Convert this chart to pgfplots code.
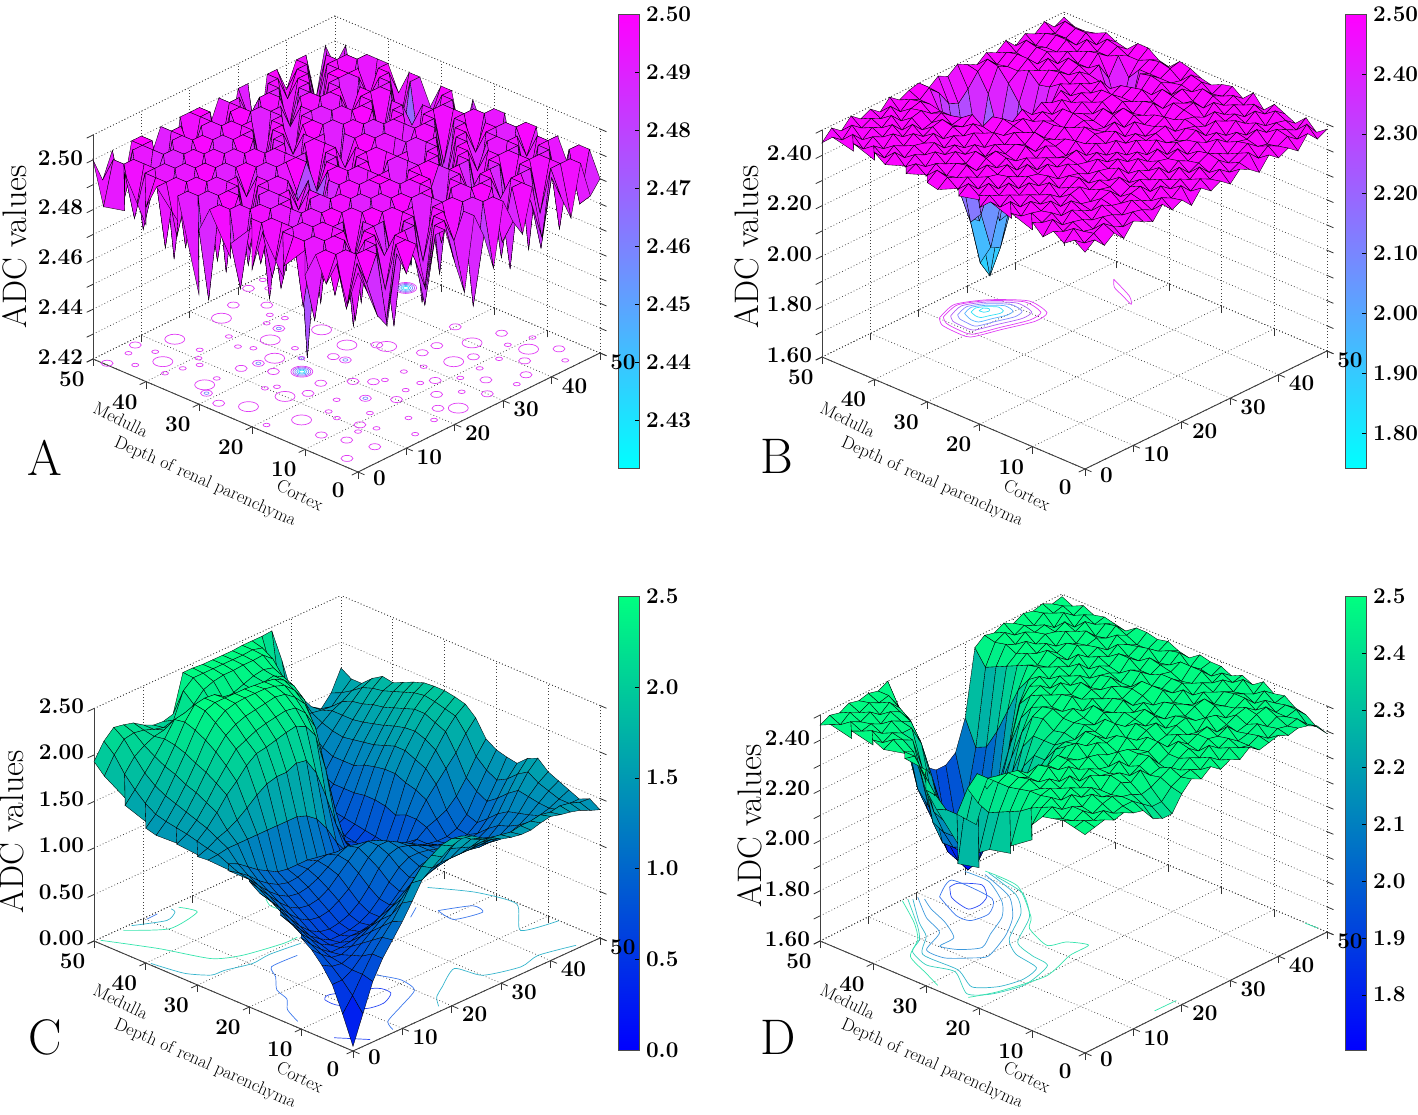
\documentclass[border=0pt]{standalone}
\usepackage{pgfplots}
\pgfplotsset{compat=1.18}
\newcommand\tickf{\fontsize{22.5}{25}\selectfont\bfseries}
\pgfdeclareplotmark{blob}{\pgfpathellipse{\pgfpointorigin}{\pgfqpoint{\pgfplotmarksize}{0pt}}{\pgfqpoint{0pt}{.5\pgfplotmarksize}}\pgfusepathqstroke}
\definecolor{k1}{HTML}{E03CF5}\definecolor{k2}{HTML}{B060F5}\definecolor{k3}{HTML}{8088FF}\definecolor{k4}{HTML}{58B0FF}\definecolor{k5}{HTML}{30E0F5}
\definecolor{w1}{HTML}{2848F5}\definecolor{w2}{HTML}{3C78EC}\definecolor{w3}{HTML}{3C98DC}\definecolor{w4}{HTML}{34B4CC}\definecolor{w5}{HTML}{34D0BC}\definecolor{w6}{HTML}{34E4AC}
\pgfplotsset{
 base/.style={xmin=0,xmax=50,ymin=0,ymax=50,xtick={0,10,...,50},ytick={0,10,...,50},
  grid=major,grid style={dash pattern=on .8pt off 2.4pt,black!75,line width=.7pt},
  axis line style={dash pattern=on .8pt off 2.4pt,black!75,line width=.7pt},
  tick style={black!80,line width=.8pt},tick align=outside,major tick length=7pt,
  xtick pos=lower,ytick pos=lower,ztick pos=left,
  clip=false,anchor=south west,/pgf/number format/assume math mode=true,
  ticklabel style={font=\tickf},
  x tick label style={xshift=7pt,yshift=8pt},y tick label style={xshift=-6pt,yshift=-3pt},
 },
 cool/.style={colormap={m}{rgb255=(0,255,255) rgb255=(255,0,255)}},
 winter/.style={colormap={m}{rgb255=(0,0,255) rgb255=(0,255,128)}},
 cb/.style={anchor=south west,width=21.5pt,height=454pt,scale only axis,view={0}{90},xmin=0,xmax=1,xtick=\empty,ytick pos=right,
   tick align=inside,major tick length=5pt,enlargelimits=false,ticklabel style={font=\tickf},
   yticklabel style={xshift=3pt},
   /pgf/number format/assume math mode=true,axis line style={black!70,line width=.8pt},tick style={black}},
 cbb/.style={surf,shader=interp,mesh/rows=2,mesh/cols=2},
}
\newcommand\fr[2]{\addplot3[black!75,line width=.9pt] coordinates{(0,50,#1)(0,0,#1)(50,0,#1)};\addplot3[black!75,line width=.9pt] coordinates{(0,50,#1)(0,50,#2)};}
\newcommand\cl[3]{\addplot3[no marks,smooth,tension=.4,line width=.7pt,color=#1] table[z expr=#2,row sep=\\]{x y\\#3};}
\newcommand\bl[4]{\addplot3[only marks,mark=blob,mark size=#2,color=#1,mark options={line width=.7pt}] table[z expr=#3,row sep=\\]{x y\\#4};}
\newcommand\sfc[1]{\addplot3[surf,shader=faceted,faceted color=black,line width=.35pt,z buffer=sort,mesh/cols=26,mesh/rows=26] table[x expr={mod(\coordindex,26)*2},y expr={floor(\coordindex/26)*2},z index=0,row sep=\\]{z\\#1};}
\newcommand\lbl[2]{\begin{scope}[shift={(#1pt,#2pt)},font=\fontsize{18}{20}\selectfont]
 \node[rotate=-26] at (121pt,694pt) {Medulla};
 \node[rotate=-24] at (205pt,632pt) {Depth of renal parenchyma};
 \node[rotate=-26] at (300pt,619pt) {Cortex};\end{scope}}
\begin{document}
\begin{tikzpicture}
\path[use as bounding box] (0,0) rectangle (1418pt,1114pt);
\begin{axis}[cb,cool,at={(618pt,646pt)},ymin=2.4217,ymax=2.50,ytick={2.43,2.44,...,2.501},point meta min=2.4217,point meta max=2.5,/pgf/number format/.cd,fixed,fixed zerofill,precision=2]
\addplot3[cbb] coordinates {(0,2.4217,2.4217)(1,2.4217,2.4217)(0,2.5,2.5)(1,2.5,2.5)};
\end{axis}
\begin{axis}[base,cool,at={(93pt,642pt)},x={(4.84pt,2.38pt)},y={(-5.3pt,2.26pt)},z={(0pt,2489pt)},zmin=2.42,zmax=2.51,point meta min=2.42,point meta max=2.5,
 ztick={2.42,2.43,...,2.511},zticklabels={2.42,,2.44,,2.46,,2.48,,2.50,}]
\fr{2.42}{2.51}
\bl{k1}{10}{2.42}{12.3 45.8\\6.1 42.4\\4.9 33.4\\4.2 24.5\\21.3 36\\17.6 31.8\\21.5 45.4\\28.5 32.9\\10 22.9\\6.3 16.4\\27.5 27.2\\31 22.9\\34 13\\24 3\\40 15\\44 8\\}
\bl{k1}{6}{2.42}{7.2 48.6\\.4 47.7\\30.8 48.8\\25.6 46.9\\28.8 43.5\\24.7 37.5\\12.1 33.1\\14.9 32.4\\14.5 29.2\\16.4 22\\23.6 26.2\\12.9 21.2\\24 24.3\\19.9 19.1\\17.3 14.4\\2.1 28.2\\3.2 31.5\\4.8 11.3\\6.1 7.7\\2 3.9\\7.3 3.5\\10.8 9.5\\21.8 17\\30.4 24.2\\33 18\\37 12\\41 6\\28 11\\33 6\\45 14\\25 8\\47 5\\30 3\\38 3\\36 18\\42 20\\22 5\\20 11\\}
\bl{k1}{3.5}{2.42}{4.7 47.6\\2.7 44.5\\7.6 45.2\\12.3 41.1\\10.3 39.5\\6.5 39\\8.9 38\\7.5 33.5\\3.7 39.8\\34.1 49.1\\32.7 46.8\\18.1 40.9\\16.7 37.9\\17.8 36\\21.8 31.8\\20.2 29.1\\9.9 26.6\\11.4 25.7\\14.2 17\\23.3 16.2\\14.4 10.9\\10.8 15.4\\10.1 13.2\\11.6 7.1\\9.1 8.3\\1.8 18.9\\26.9 41.2\\27.6 39\\24.7 39.8\\27 16\\30 15\\31 9\\35 9\\39 9\\43 11\\47 10\\45 2\\35 2\\28 6\\17 6\\19 3\\14 2\\23 12\\26 12\\}
\bl{k3}{2.5}{2.42}{14.9 32.4\\20.2 29.1\\24.7 37.5\\3.2 31.5\\24 24.3\\17.3 14.4\\}
\bl{k1}{11}{2.42}{17.2 26.3\\46 33\\}\bl{k2}{9}{2.42}{17.2 26.3\\46 33\\}\bl{k3}{7}{2.42}{17.2 26.3\\46 33\\}\bl{k4}{5}{2.42}{17.2 26.3\\46 33\\}\bl{k5}{3}{2.42}{17.2 26.3\\46 33\\}
\sfc{%
2.5\\2.49\\2.479\\2.473\\2.5\\2.49\\2.5\\2.48\\2.5\\2.5\\2.485\\2.471\\2.5\\2.49\\2.475\\2.5\\2.49\\2.483\\2.5\\2.478\\2.5\\2.49\\2.48\\2.5\\2.485\\2.49\\%
2.485\\2.5\\2.49\\2.5\\2.47\\2.5\\2.5\\2.49\\2.47\\2.5\\2.5\\2.49\\2.5\\2.46\\2.5\\2.5\\2.48\\2.5\\2.5\\2.49\\2.47\\2.5\\2.5\\2.5\\2.48\\2.5\\%
2.5\\2.48\\2.5\\2.5\\2.5\\2.48\\2.5\\2.5\\2.5\\2.47\\2.5\\2.5\\2.48\\2.5\\2.5\\2.49\\2.5\\2.47\\2.5\\2.5\\2.5\\2.48\\2.5\\2.47\\2.5\\2.5\\%
2.49\\2.5\\2.5\\2.47\\2.5\\2.5\\2.49\\2.46\\2.5\\2.5\\2.48\\2.5\\2.5\\2.5\\2.47\\2.5\\2.5\\2.5\\2.49\\2.46\\2.5\\2.5\\2.5\\2.5\\2.48\\2.49\\%
2.5\\2.5\\2.48\\2.5\\2.49\\2.5\\2.5\\2.5\\2.48\\2.5\\2.5\\2.46\\2.5\\2.48\\2.5\\2.5\\2.47\\2.5\\2.5\\2.5\\2.48\\2.5\\2.46\\2.5\\2.5\\2.5\\%
2.49\\2.47\\2.5\\2.5\\2.5\\2.46\\2.5\\2.49\\2.5\\2.5\\2.49\\2.5\\2.5\\2.5\\2.48\\2.5\\2.5\\2.49\\2.46\\2.5\\2.5\\2.5\\2.5\\2.48\\2.5\\2.47\\%
2.5\\2.5\\2.5\\2.48\\2.5\\2.5\\2.48\\2.5\\2.5\\2.47\\2.5\\2.5\\2.47\\2.5\\2.5\\2.46\\2.5\\2.5\\2.5\\2.48\\2.5\\2.47\\2.5\\2.5\\2.49\\2.5\\%
2.49\\2.5\\2.47\\2.5\\2.5\\2.49\\2.5\\2.5\\2.46\\2.5\\2.5\\2.48\\2.5\\2.5\\2.5\\2.49\\2.5\\2.47\\2.5\\2.5\\2.49\\2.5\\2.5\\2.46\\2.5\\2.5\\%
2.485\\2.5\\2.5\\2.5\\2.47\\2.5\\2.5\\2.48\\2.5\\2.5\\2.47\\2.5\\2.5\\2.48\\2.5\\2.5\\2.5\\2.5\\2.48\\2.5\\2.5\\2.47\\2.5\\2.5\\2.5\\2.48\\%
2.5\\2.48\\2.5\\2.49\\2.5\\2.5\\2.46\\2.5\\2.5\\2.48\\2.5\\2.5\\2.5\\2.5\\2.46\\2.5\\2.48\\2.5\\2.5\\2.47\\2.5\\2.5\\2.49\\2.5\\2.47\\2.5\\%
2.483\\2.5\\2.5\\2.47\\2.5\\2.48\\2.5\\2.5\\2.49\\2.5\\2.5\\2.47\\2.5\\2.49\\2.5\\2.5\\2.5\\2.46\\2.5\\2.5\\2.48\\2.5\\2.5\\2.48\\2.5\\2.5\\%
2.5\\2.5\\2.48\\2.5\\2.5\\2.5\\2.48\\2.5\\2.46\\2.5\\2.48\\2.5\\2.5\\2.5\\2.48\\2.5\\2.49\\2.5\\2.5\\2.48\\2.5\\2.46\\2.5\\2.5\\2.5\\2.49\\%
2.49\\2.47\\2.5\\2.5\\2.46\\2.5\\2.5\\2.49\\2.5\\2.48\\2.5\\2.5\\2.47\\2.5\\2.5\\2.5\\2.47\\2.5\\2.49\\2.5\\2.5\\2.5\\2.48\\2.5\\2.46\\2.5\\%
2.484\\2.5\\2.5\\2.48\\2.5\\2.5\\2.47\\2.5\\2.49\\2.425\\2.49\\2.5\\2.5\\2.48\\2.5\\2.49\\2.5\\2.5\\2.47\\2.5\\2.48\\2.5\\2.5\\2.5\\2.5\\2.48\\%
2.5\\2.5\\2.49\\2.5\\2.47\\2.5\\2.5\\2.5\\2.48\\2.49\\2.5\\2.46\\2.5\\2.5\\2.49\\2.5\\2.5\\2.46\\2.5\\2.5\\2.5\\2.47\\2.5\\2.48\\2.5\\2.5\\%
2.49\\2.46\\2.5\\2.5\\2.5\\2.48\\2.5\\2.46\\2.5\\2.5\\2.5\\2.5\\2.48\\2.5\\2.47\\2.5\\2.48\\2.5\\2.5\\2.48\\2.5\\2.5\\2.49\\2.47\\2.49\\2.5\\%
2.464\\2.5\\2.5\\2.47\\2.5\\2.5\\2.49\\2.5\\2.5\\2.47\\2.5\\2.48\\2.5\\2.5\\2.5\\2.46\\2.5\\2.5\\2.49\\2.5\\2.47\\2.5\\2.47\\2.43\\2.47\\2.49\\%
2.5\\2.5\\2.48\\2.5\\2.5\\2.46\\2.5\\2.5\\2.48\\2.5\\2.5\\2.5\\2.47\\2.5\\2.49\\2.5\\2.5\\2.47\\2.5\\2.5\\2.5\\2.48\\2.5\\2.47\\2.5\\2.5\\%
2.49\\2.48\\2.5\\2.5\\2.49\\2.5\\2.5\\2.47\\2.5\\2.5\\2.46\\2.5\\2.5\\2.49\\2.5\\2.5\\2.46\\2.5\\2.5\\2.48\\2.5\\2.5\\2.5\\2.5\\2.48\\2.5\\%
2.5\\2.5\\2.5\\2.47\\2.5\\2.5\\2.48\\2.5\\2.5\\2.49\\2.5\\2.47\\2.5\\2.5\\2.48\\2.5\\2.5\\2.5\\2.47\\2.5\\2.49\\2.5\\2.47\\2.5\\2.5\\2.49\\%
2.49\\2.5\\2.47\\2.5\\2.5\\2.48\\2.5\\2.5\\2.46\\2.5\\2.5\\2.5\\2.48\\2.5\\2.5\\2.47\\2.5\\2.48\\2.5\\2.5\\2.5\\2.46\\2.5\\2.49\\2.5\\2.5\\%
2.483\\2.5\\2.5\\2.5\\2.46\\2.5\\2.5\\2.49\\2.5\\2.5\\2.48\\2.5\\2.5\\2.46\\2.5\\2.5\\2.49\\2.5\\2.5\\2.47\\2.5\\2.5\\2.5\\2.5\\2.47\\2.5\\%
2.5\\2.48\\2.5\\2.49\\2.5\\2.5\\2.47\\2.5\\2.5\\2.47\\2.5\\2.5\\2.49\\2.5\\2.5\\2.48\\2.5\\2.46\\2.5\\2.5\\2.48\\2.5\\2.5\\2.48\\2.5\\2.5\\%
2.485\\2.5\\2.5\\2.47\\2.5\\2.48\\2.5\\2.5\\2.49\\2.5\\2.5\\2.47\\2.5\\2.5\\2.47\\2.5\\2.5\\2.5\\2.48\\2.5\\2.5\\2.47\\2.5\\2.5\\2.5\\2.48\\%
2.483\\2.5\\2.48\\2.5\\2.5\\2.5\\2.47\\2.5\\2.5\\2.48\\2.5\\2.5\\2.48\\2.5\\2.5\\2.49\\2.47\\2.5\\2.5\\2.49\\2.5\\2.5\\2.48\\2.5\\2.47\\2.5\\%
2.5\\2.49\\2.5\\2.48\\2.5\\2.5\\2.49\\2.5\\2.47\\2.5\\2.5\\2.5\\2.49\\2.5\\2.48\\2.5\\2.5\\2.47\\2.5\\2.5\\2.49\\2.5\\2.5\\2.48\\2.5\\2.49\\%
}
\end{axis}
\node[rotate=90,font=\fontsize{34}{36}\selectfont] at (15pt,867pt) {ADC values};
\node[font=\fontsize{50}{52}\selectfont] at (45pt,656pt) {A};
\lbl{0}{0}
\begin{axis}[cb,cool,at={(1345pt,646pt)},ymin=1.7415,ymax=2.50,ytick={1.8,1.9,...,2.501},point meta min=1.7415,point meta max=2.5,/pgf/number format/.cd,fixed,fixed zerofill,precision=2]
\addplot3[cbb] coordinates {(0,1.7415,1.7415)(1,1.7415,1.7415)(0,2.5,2.5)(1,2.5,2.5)};
\end{axis}
\begin{axis}[base,cool,at={(822pt,645pt)},x={(4.84pt,2.36pt)},y={(-5.26pt,2.24pt)},z={(0pt,252pt)},zmin=1.6,zmax=2.5,point meta min=1.7415,point meta max=2.5,
 ztick={1.6,1.7,...,2.51},zticklabels={1.60,,1.80,,2.00,,2.20,,2.40,}]
\fr{1.6}{2.5}
\cl{k1}{1.6}{20.1 46.2\\24.6 47.5\\28.9 45.1\\32.6 40.7\\31.7 36.4\\28.6 35.8\\23.5 37.5\\18.8 39.1\\18.5 42\\18.8 44.5\\20.1 46.2\\}
\cl{k1}{1.6}{20.7 46\\24.8 47.1\\28.7 44.9\\32 40.9\\31.2 37.1\\28.4 36.6\\23.8 38.1\\19.6 39.5\\19.3 42.1\\19.6 44.4\\20.7 46\\}
\cl{k2}{1.6}{21.7 45.5\\25 46.5\\28.3 44.7\\31 41.4\\30.4 38.1\\28 37.7\\24.2 39\\20.7 40.2\\20.5 42.3\\20.7 44.2\\21.7 45.5\\}
\cl{k3}{1.6}{22.6 45\\25.3 45.8\\27.9 44.4\\30.1 41.7\\29.6 39.2\\27.7 38.8\\24.7 39.8\\21.8 40.8\\21.7 42.5\\21.9 44\\22.6 45\\}
\cl{k4}{1.6}{23.6 44.6\\25.6 45.2\\27.5 44.1\\29.2 42.1\\28.8 40.2\\27.4 39.9\\25.1 40.7\\23 41.4\\22.8 42.7\\23.2 43.8\\23.6 44.6\\}
\cl{k5}{1.6}{24.5 44.2\\25.9 44.6\\27.2 43.8\\28.3 42.5\\27.9 41.2\\27 41\\25.5 41.6\\24.2 42.1\\24.1 43\\24.5 44.2\\}
\cl{k5}{1.6}{25.6 43.7\\26.6 43.8\\27 43.1\\26.5 42.6\\25.7 42.9\\25.6 43.7\\}
\cl{k1}{1.6}{45.7 36.6\\43.4 31.5\\41.7 29.6\\42.8 32.2\\43.9 34.8\\45.7 36.6\\}
\sfc{%
2.46\\2.49\\2.45\\2.48\\2.44\\2.49\\2.47\\2.45\\2.5\\2.46\\2.48\\2.44\\2.49\\2.46\\2.48\\2.45\\2.49\\2.47\\2.44\\2.49\\2.46\\2.48\\2.45\\2.5\\2.46\\2.48\\%
2.49\\2.46\\2.48\\2.5\\2.47\\2.45\\2.49\\2.48\\2.46\\2.49\\2.47\\2.5\\2.46\\2.49\\2.47\\2.49\\2.46\\2.48\\2.5\\2.46\\2.49\\2.47\\2.49\\2.46\\2.5\\2.45\\%
2.46\\2.5\\2.47\\2.46\\2.49\\2.48\\2.46\\2.5\\2.48\\2.46\\2.5\\2.47\\2.49\\2.47\\2.5\\2.46\\2.49\\2.46\\2.48\\2.5\\2.47\\2.46\\2.5\\2.48\\2.46\\2.49\\%
2.49\\2.47\\2.49\\2.48\\2.46\\2.5\\2.48\\2.47\\2.49\\2.5\\2.46\\2.49\\2.47\\2.5\\2.46\\2.48\\2.5\\2.48\\2.46\\2.49\\2.48\\2.5\\2.47\\2.49\\2.48\\2.45\\%
2.45\\2.5\\2.46\\2.5\\2.48\\2.46\\2.49\\2.5\\2.46\\2.48\\2.49\\2.47\\2.5\\2.46\\2.49\\2.47\\2.49\\2.46\\2.5\\2.47\\2.49\\2.46\\2.49\\2.46\\2.5\\2.47\\%
2.49\\2.47\\2.49\\2.46\\2.5\\2.47\\2.46\\2.49\\2.48\\2.5\\2.46\\2.49\\2.47\\2.49\\2.48\\2.5\\2.46\\2.49\\2.47\\2.49\\2.46\\2.5\\2.47\\2.5\\2.47\\2.49\\%
2.46\\2.49\\2.48\\2.5\\2.46\\2.49\\2.5\\2.47\\2.49\\2.47\\2.5\\2.46\\2.5\\2.47\\2.5\\2.46\\2.49\\2.48\\2.5\\2.46\\2.5\\2.48\\2.49\\2.46\\2.49\\2.45\\%
2.49\\2.46\\2.5\\2.47\\2.49\\2.46\\2.48\\2.5\\2.46\\2.49\\2.48\\2.5\\2.47\\2.49\\2.46\\2.5\\2.47\\2.46\\2.49\\2.48\\2.46\\2.5\\2.47\\2.49\\2.47\\2.5\\%
2.47\\2.5\\2.46\\2.49\\2.47\\2.5\\2.46\\2.49\\2.48\\2.46\\2.5\\2.47\\2.49\\2.46\\2.5\\2.48\\2.49\\2.5\\2.46\\2.49\\2.48\\2.46\\2.5\\2.47\\2.49\\2.46\\%
2.5\\2.46\\2.49\\2.47\\2.5\\2.47\\2.49\\2.46\\2.5\\2.48\\2.47\\2.49\\2.46\\2.5\\2.47\\2.49\\2.46\\2.48\\2.5\\2.47\\2.49\\2.5\\2.46\\2.49\\2.47\\2.49\\%
2.46\\2.49\\2.47\\2.5\\2.46\\2.49\\2.48\\2.5\\2.47\\2.49\\2.5\\2.46\\2.49\\2.47\\2.5\\2.46\\2.5\\2.47\\2.49\\2.46\\2.5\\2.48\\2.47\\2.5\\2.46\\2.48\\%
2.49\\2.47\\2.5\\2.46\\2.49\\2.47\\2.5\\2.46\\2.49\\2.47\\2.46\\2.5\\2.47\\2.49\\2.48\\2.5\\2.46\\2.49\\2.47\\2.5\\2.46\\2.49\\2.5\\2.47\\2.49\\2.46\\%
2.47\\2.5\\2.46\\2.49\\2.48\\2.5\\2.46\\2.49\\2.47\\2.5\\2.48\\2.49\\2.46\\2.5\\2.47\\2.46\\2.49\\2.5\\2.46\\2.49\\2.47\\2.5\\2.46\\2.48\\2.5\\2.47\\%
2.5\\2.46\\2.49\\2.47\\2.5\\2.47\\2.49\\2.46\\2.5\\2.46\\2.49\\2.47\\2.5\\2.48\\2.49\\2.47\\2.5\\2.46\\2.49\\2.47\\2.5\\2.46\\2.49\\2.47\\2.46\\2.49\\%
2.46\\2.49\\2.47\\2.5\\2.46\\2.49\\2.5\\2.47\\2.49\\2.47\\2.5\\2.46\\2.49\\2.46\\2.5\\2.48\\2.46\\2.49\\2.5\\2.47\\2.49\\2.46\\2.5\\2.47\\2.49\\2.5\\%
2.47\\2.5\\2.46\\2.49\\2.47\\2.5\\2.46\\2.49\\2.47\\2.5\\2.48\\2.46\\2.49\\2.47\\2.5\\2.46\\2.49\\2.47\\2.5\\2.46\\2.48\\2.38\\2.49\\2.47\\2.5\\2.46\\%
2.5\\2.46\\2.49\\2.47\\2.5\\2.47\\2.49\\2.46\\2.5\\2.47\\2.49\\2.5\\2.47\\2.49\\2.46\\2.5\\2.47\\2.49\\2.47\\2.5\\2.45\\2.25\\2.32\\2.47\\2.49\\2.47\\%
2.47\\2.49\\2.46\\2.5\\2.47\\2.49\\2.46\\2.5\\2.48\\2.46\\2.5\\2.47\\2.5\\2.46\\2.49\\2.47\\2.5\\2.46\\2.49\\2.47\\2.46\\2.38\\2.28\\2.42\\2.47\\2.5\\%
2.5\\2.46\\2.49\\2.47\\2.5\\2.46\\2.49\\2.47\\2.5\\2.47\\2.49\\2.46\\2.4\\2.38\\2.36\\2.35\\2.42\\2.49\\2.47\\2.5\\2.47\\2.49\\2.42\\2.49\\2.47\\2.5\\%
2.47\\2.5\\2.46\\2.49\\2.48\\2.5\\2.46\\2.49\\2.47\\2.5\\2.42\\2.2\\2.1\\2.08\\2.12\\2.22\\2.32\\2.46\\2.5\\2.47\\2.49\\2.46\\2.5\\2.47\\2.49\\2.46\\%
2.5\\2.46\\2.49\\2.47\\2.5\\2.47\\2.49\\2.5\\2.46\\2.47\\2.28\\2.05\\1.9\\1.88\\2\\2.12\\2.3\\2.45\\2.49\\2.47\\2.5\\2.46\\2.49\\2.47\\2.5\\2.47\\%
2.47\\2.49\\2.46\\2.5\\2.47\\2.5\\2.46\\2.47\\2.49\\2.46\\2.22\\2\\1.82\\1.75\\1.95\\2.15\\2.38\\2.49\\2.47\\2.5\\2.46\\2.49\\2.47\\2.5\\2.46\\2.49\\%
2.5\\2.46\\2.49\\2.47\\2.5\\2.46\\2.49\\2.5\\2.47\\2.46\\2.3\\2.1\\1.98\\1.95\\2.05\\2.25\\2.44\\2.47\\2.5\\2.46\\2.49\\2.47\\2.5\\2.46\\2.49\\2.47\\%
2.47\\2.5\\2.46\\2.49\\2.47\\2.5\\2.46\\2.49\\2.5\\2.47\\2.42\\2.25\\2.15\\2.1\\2.18\\2.4\\2.49\\2.47\\2.5\\2.46\\2.49\\2.47\\2.5\\2.47\\2.49\\2.46\\%
2.49\\2.46\\2.5\\2.47\\2.49\\2.47\\2.5\\2.46\\2.49\\2.47\\2.5\\2.46\\2.4\\2.38\\2.42\\2.47\\2.5\\2.46\\2.49\\2.47\\2.5\\2.46\\2.49\\2.47\\2.5\\2.46\\%
2.45\\2.49\\2.46\\2.5\\2.47\\2.49\\2.46\\2.5\\2.47\\2.49\\2.5\\2.46\\2.49\\2.47\\2.5\\2.48\\2.46\\2.49\\2.47\\2.5\\2.46\\2.49\\2.47\\2.5\\2.46\\2.48\\%
}
\end{axis}
\node[rotate=90,font=\fontsize{34}{36}\selectfont] at (747pt,867pt) {ADC values};
\node[font=\fontsize{50}{52}\selectfont] at (777pt,658pt) {B};
\lbl{727}{0}
\begin{axis}[cb,winter,at={(618pt,64pt)},ymin=0,ymax=2.5,ytick={0,.5,...,2.5},point meta min=0,point meta max=2.5,/pgf/number format/.cd,fixed,fixed zerofill,precision=1]
\addplot3[cbb] coordinates {(0,0,0)(1,0,0)(0,2.5,2.5)(1,2.5,2.5)};
\end{axis}
\begin{axis}[base,winter,at={(94pt,63pt)},x={(4.94pt,2.26pt)},y={(-5.18pt,2.2pt)},z={(0pt,93pt)},zmin=0,zmax=2.5,point meta min=0,point meta max=2.5,
 ztick={0,.5,...,2.5},zticklabels={0.00,0.50,1.00,1.50,2.00,2.50}]
\fr{0}{2.5}
\cl{w6}{0}{.8 49.5\\4.6 41.8\\7.4 34.4\\11.2 32\\17.9 30.5\\20.7 30.5\\}
\cl{w6}{0}{5.3 49.4\\10.2 45.1\\16.7 46\\16 48.9\\}
\cl{w4}{0}{7.2 49.6\\11.8 47.2\\14.5 48.2\\14.9 49.3\\}
\cl{w2}{0}{10.2 49.5\\12.4 49.6\\}
\cl{w6}{0}{26.4 42\\25.3 40.2\\25.3 38.6\\}
\cl{w4}{0}{.4 39.4\\1.4 33.9\\3.6 30.8\\6 30.5\\10.3 29.2\\14 29.5\\19.6 28.8\\}
\cl{w2}{0}{16.5 26.5\\11.4 26.6\\9.5 24\\6.6 21\\5.5 18\\3.1 15.6\\1.4 12\\}
\cl{w2}{0}{19.7 14.3\\21 10.8\\20 7.2\\15 5\\10.2 3\\8.8 .7\\}
\cl{w1}{0}{9 14\\10.6 14.7\\16.7 11.4\\17 8.9\\14 7.4\\11 8\\8.9 11.9\\9 14\\}
\cl{w1}{0}{1.2 4.8\\4.3 .8\\}
\cl{w4}{0}{18.6 1.2\\20.5 3.4\\23.4 5.1\\28.8 7.9\\30 3.6\\35.7 1.6\\40 2.4\\46 .8\\}
\cl{w4}{0}{44.8 28.3\\48.4 22.4\\49.7 15.8\\44 9.6\\50 7.9\\}
\cl{w2}{0}{40.5 22.2\\45 19.8\\44.5 17.4\\40 18.7\\40.5 22.2\\}
\cl{w2}{0}{39.1 25.1\\36.3 23.5\\}
\sfc{%
.05\\.35\\.65\\.85\\1\\1.15\\1.32\\1.5\\1.58\\1.65\\1.72\\1.75\\1.73\\1.66\\1.6\\1.55\\1.52\\1.5\\1.5\\1.53\\1.55\\1.52\\1.5\\1.47\\1.42\\1.38\\%
.35\\.5\\.68\\.85\\.98\\1.1\\1.25\\1.42\\1.55\\1.62\\1.68\\1.7\\1.68\\1.6\\1.55\\1.52\\1.5\\1.48\\1.5\\1.5\\1.52\\1.5\\1.52\\1.5\\1.46\\1.45\\%
.62\\.62\\.68\\.78\\.9\\1\\1.08\\1.2\\1.32\\1.42\\1.48\\1.5\\1.5\\1.46\\1.42\\1.42\\1.4\\1.38\\1.36\\1.38\\1.38\\1.36\\1.38\\1.38\\1.4\\1.4\\%
.78\\.72\\.7\\.74\\.82\\.9\\.98\\1.06\\1.14\\1.2\\1.25\\1.28\\1.3\\1.3\\1.3\\1.3\\1.3\\1.3\\1.28\\1.26\\1.28\\1.3\\1.32\\1.35\\1.4\\1.45\\%
.9\\.8\\.72\\.7\\.74\\.8\\.86\\.92\\.96\\1\\1.04\\1.1\\1.15\\1.18\\1.2\\1.2\\1.2\\1.2\\1.18\\1.16\\1.18\\1.22\\1.28\\1.36\\1.44\\1.5\\%
.98\\.86\\.76\\.68\\.68\\.7\\.74\\.76\\.78\\.82\\.88\\.95\\1.04\\1.1\\1.12\\1.13\\1.12\\1.1\\1.08\\1.08\\1.1\\1.16\\1.25\\1.38\\1.48\\1.55\\%
1.04\\.93\\.82\\.72\\.66\\.64\\.66\\.66\\.68\\.72\\.8\\.9\\1\\1.07\\1.1\\1.1\\1.08\\1.05\\1.03\\1.02\\1.04\\1.12\\1.22\\1.4\\1.55\\1.65\\%
1.13\\1\\.88\\.76\\.68\\.62\\.62\\.63\\.66\\.72\\.82\\.95\\1.06\\1.12\\1.12\\1.1\\1.06\\1.03\\1\\.98\\.98\\1.04\\1.15\\1.32\\1.48\\1.6\\%
1.2\\1.08\\.95\\.82\\.72\\.66\\.64\\.66\\.7\\.78\\.9\\1.05\\1.15\\1.18\\1.15\\1.1\\1.05\\1\\.96\\.93\\.92\\.94\\1.05\\1.22\\1.38\\1.5\\%
1.27\\1.15\\1.02\\.9\\.8\\.74\\.72\\.74\\.8\\.88\\1\\1.12\\1.2\\1.2\\1.14\\1.08\\1.02\\.96\\.92\\.88\\.86\\.88\\.96\\1.14\\1.32\\1.52\\%
1.35\\1.22\\1.1\\.98\\.88\\.82\\.8\\.82\\.88\\.98\\1.08\\1.18\\1.2\\1.16\\1.08\\1.02\\.96\\.9\\.88\\.86\\.86\\.9\\1\\1.2\\1.38\\1.55\\%
1.37\\1.28\\1.16\\1.05\\.96\\.9\\.88\\.9\\.95\\1.02\\1.1\\1.15\\1.12\\1.05\\.98\\.92\\.88\\.85\\.88\\.96\\1\\1.05\\1.15\\1.3\\1.48\\1.62\\%
1.37\\1.3\\1.22\\1.12\\1.04\\.98\\.95\\.96\\1\\1.04\\1.06\\1.04\\.98\\.9\\.84\\.78\\.74\\.72\\.8\\1\\1.16\\1.28\\1.4\\1.52\\1.68\\1.8\\%
1.38\\1.35\\1.3\\1.22\\1.14\\1.08\\1.02\\1\\1\\1\\.98\\.92\\.84\\.76\\.7\\.66\\.64\\.64\\.72\\1\\1.22\\1.4\\1.55\\1.7\\1.82\\1.9\\%
1.39\\1.4\\1.42\\1.42\\1.42\\1.42\\1.42\\1.42\\1.42\\1.42\\1.38\\1.3\\1.15\\.95\\.8\\.7\\.65\\.63\\.7\\.95\\1.25\\1.45\\1.62\\1.75\\1.85\\1.93\\%
1.38\\1.42\\1.48\\1.52\\1.58\\1.66\\1.75\\1.82\\1.85\\1.85\\1.9\\1.88\\1.7\\1.4\\1.05\\.8\\.68\\.65\\.72\\1\\1.3\\1.5\\1.66\\1.8\\1.88\\1.95\\%
1.4\\1.45\\1.54\\1.66\\1.8\\1.9\\2.02\\2.1\\2.12\\2.15\\2.18\\2.2\\2.15\\2\\1.6\\1.1\\.72\\.66\\.74\\1.02\\1.3\\1.5\\1.65\\1.8\\1.9\\1.95\\%
1.42\\1.48\\1.58\\1.72\\1.88\\2.02\\2.15\\2.2\\2.25\\2.28\\2.3\\2.32\\2.3\\2.2\\2\\1.5\\.9\\.68\\.76\\1.02\\1.28\\1.46\\1.62\\1.76\\1.88\\1.94\\%
1.43\\1.5\\1.62\\1.78\\1.95\\2.12\\2.25\\2.32\\2.36\\2.38\\2.4\\2.42\\2.4\\2.32\\2.2\\1.9\\1.25\\.72\\.78\\1\\1.25\\1.42\\1.58\\1.72\\1.84\\1.9\\%
1.42\\1.52\\1.66\\1.82\\2\\2.2\\2.34\\2.42\\2.45\\2.46\\2.46\\2.46\\2.44\\2.4\\2.3\\2.15\\1.6\\.85\\.8\\1\\1.2\\1.4\\1.55\\1.68\\1.8\\1.85\\%
1.45\\1.55\\1.7\\1.88\\2.06\\2.26\\2.42\\2.46\\2.46\\2.46\\2.46\\2.45\\2.44\\2.42\\2.36\\2.25\\1.85\\1.1\\.88\\1\\1.2\\1.38\\1.52\\1.66\\1.76\\1.8\\%
1.52\\1.62\\1.76\\1.92\\2.1\\2.3\\2.44\\2.46\\2.45\\2.38\\2.3\\2.28\\2.3\\2.34\\2.36\\2.3\\2.05\\1.4\\1\\1.05\\1.2\\1.36\\1.5\\1.62\\1.74\\1.82\\%
1.6\\1.72\\1.85\\1.98\\2.12\\2.28\\2.3\\2.25\\2.2\\2.22\\2.25\\2.28\\2.32\\2.36\\2.38\\2.35\\2.2\\1.7\\1.2\\1.15\\1.25\\1.38\\1.5\\1.6\\1.7\\1.75\\%
1.68\\1.84\\1.98\\2.05\\2.1\\2.12\\2.12\\2.15\\2.25\\2.36\\2.4\\2.42\\2.42\\2.43\\2.43\\2.44\\2.35\\1.95\\1.45\\1.3\\1.35\\1.42\\1.5\\1.55\\1.62\\1.65\\%
1.82\\2\\2.12\\2.14\\2.12\\2.08\\2.05\\2.08\\2.35\\2.44\\2.44\\2.44\\2.44\\2.44\\2.44\\2.45\\2.42\\2.1\\1.65\\1.5\\1.48\\1.48\\1.46\\1.45\\1.55\\1.65\\%
1.93\\2.1\\2.2\\2.18\\2.15\\2.08\\2.03\\2.02\\2.05\\2.45\\2.45\\2.44\\2.44\\2.44\\2.44\\2.45\\2.45\\2.45\\2.46\\2.1\\1.7\\1.6\\1.45\\1.38\\1.5\\1.72\\%
}
\end{axis}
\node[rotate=90,font=\fontsize{34}{36}\selectfont] at (12pt,282pt) {ADC values};
\node[font=\fontsize{50}{52}\selectfont] at (45pt,77pt) {C};
\lbl{0}{-582}
\begin{axis}[cb,winter,at={(1345pt,64pt)},ymin=1.703,ymax=2.5,ytick={1.8,1.9,...,2.501},point meta min=1.703,point meta max=2.5,/pgf/number format/.cd,fixed,fixed zerofill,precision=1]
\addplot3[cbb] coordinates {(0,1.703,1.703)(1,1.703,1.703)(0,2.5,2.5)(1,2.5,2.5)};
\end{axis}
\begin{axis}[base,winter,at={(820pt,61pt)},x={(4.84pt,2.42pt)},y={(-5.3pt,2.24pt)},z={(0pt,251pt)},zmin=1.6,zmax=2.5,point meta min=1.703,point meta max=2.5,
 ztick={1.6,1.7,...,2.51},zticklabels={1.60,,1.80,,2.00,,2.20,,2.40,}]
\fr{1.6}{2.5}
\cl{w1}{1.6}{24.4 47.8\\26 47.7\\27.9 44.9\\25.7 42\\23.2 41\\21.2 41.3\\21.5 43.5\\22.3 45.6\\24.4 47.8\\}
\cl{w2}{1.6}{21.2 46.8\\26.1 49\\25.8 41.1\\22.1 38.3\\18.8 38.8\\18.6 41.3\\21.2 46.8\\}
\cl{w3}{1.6}{19.3 47.9\\17.7 45.2\\16 41\\13.4 37\\10.2 36.7\\11.2 34.1\\13.9 32.1\\17.7 34\\22.6 36.3\\26 39.4\\29.3 44.9\\29.3 49.4\\}
\cl{w3}{1.6}{19.1 49\\15.3 43.9\\13.2 39.5\\8.1 37.3\\8 33.8\\10.6 31\\12.6 29.7\\18.7 32.1\\23.6 35.2\\27.9 39.8\\30.5 46.7\\}
\cl{w4}{1.6}{18.2 49.1\\13.5 43.6\\11.1 40.1\\6.7 36.7\\6.6 30\\4.1 25.1\\6.7 22.4\\10.6 21.4\\14.5 22.4\\15.6 27.3\\18.4 31.1\\25.2 35.1\\28.9 39.4\\31.2 46.6\\}
\cl{w5}{1.6}{17.7 49.6\\12.6 43.1\\9.7 40.1\\6.4 38.4\\4.7 34.2\\5.9 29.9\\2.1 24.2\\4.4 21.6\\9.7 20.1\\16 21.7\\16.8 25.3\\18.4 29.5\\25.2 33.5\\29.9 39.1\\31.1 45.2\\}
\cl{w6}{1.6}{16.8 49.8\\13 44.1\\9.6 40.3\\5.1 37.6\\2.8 32.5\\1.2 28.9\\}
\cl{w6}{1.6}{1.4 23.3\\5.6 21.4\\13.6 19.7\\20.4 21.5\\24.5 21.7\\23.1 24.6\\20.5 25.9\\22.6 31.1\\25.4 33.4\\31 41\\31.3 47.4\\}
\cl{w6}{1.6}{16 1.5\\20.4 1.4\\}
\cl{w6}{1.6}{49.9 4\\50 1.7\\}
\sfc{%
2.47\\2.48\\2.49\\2.47\\2.48\\2.46\\2.45\\2.4\\2.38\\2.38\\2.44\\2.48\\2.46\\2.49\\2.46\\2.48\\2.46\\2.49\\2.46\\2.47\\2.48\\2.46\\2.47\\2.46\\2.44\\2.39\\%
2.48\\2.49\\2.47\\2.49\\2.46\\2.47\\2.47\\2.44\\2.41\\2.41\\2.45\\2.47\\2.48\\2.46\\2.49\\2.46\\2.49\\2.47\\2.46\\2.48\\2.45\\2.47\\2.46\\2.47\\2.43\\2.4\\%
2.49\\2.47\\2.49\\2.46\\2.48\\2.49\\2.47\\2.46\\2.44\\2.45\\2.47\\2.49\\2.46\\2.49\\2.47\\2.5\\2.47\\2.49\\2.46\\2.47\\2.49\\2.46\\2.48\\2.46\\2.47\\2.43\\%
2.48\\2.46\\2.49\\2.47\\2.5\\2.47\\2.46\\2.49\\2.47\\2.5\\2.46\\2.47\\2.44\\2.47\\2.49\\2.46\\2.49\\2.48\\2.5\\2.46\\2.47\\2.49\\2.5\\2.46\\2.47\\2.44\\%
2.47\\2.49\\2.46\\2.5\\2.47\\2.49\\2.46\\2.5\\2.49\\2.46\\2.48\\2.5\\2.45\\2.47\\2.5\\2.47\\2.49\\2.5\\2.46\\2.47\\2.49\\2.5\\2.47\\2.49\\2.46\\2.47\\%
2.42\\2.47\\2.49\\2.46\\2.49\\2.47\\2.5\\2.48\\2.47\\2.5\\2.46\\2.49\\2.48\\2.5\\2.46\\2.49\\2.47\\2.46\\2.5\\2.49\\2.46\\2.48\\2.5\\2.46\\2.49\\2.46\\%
2.36\\2.45\\2.48\\2.49\\2.47\\2.5\\2.46\\2.49\\2.47\\2.46\\2.5\\2.49\\2.47\\2.5\\2.46\\2.47\\2.49\\2.5\\2.47\\2.46\\2.49\\2.47\\2.5\\2.48\\2.46\\2.49\\%
2.3\\2.42\\2.48\\2.47\\2.49\\2.46\\2.5\\2.47\\2.5\\2.49\\2.47\\2.46\\2.5\\2.47\\2.49\\2.5\\2.46\\2.49\\2.47\\2.49\\2.5\\2.46\\2.49\\2.47\\2.5\\2.46\\%
2.27\\2.4\\2.47\\2.49\\2.46\\2.5\\2.47\\2.49\\2.47\\2.46\\2.5\\2.48\\2.49\\2.46\\2.5\\2.47\\2.49\\2.46\\2.5\\2.48\\2.46\\2.49\\2.47\\2.5\\2.47\\2.48\\%
2.25\\2.38\\2.46\\2.48\\2.46\\2.49\\2.47\\2.49\\2.46\\2.5\\2.47\\2.49\\2.46\\2.5\\2.47\\2.48\\2.5\\2.46\\2.49\\2.47\\2.5\\2.46\\2.49\\2.47\\2.49\\2.46\\%
2.22\\2.36\\2.46\\2.48\\2.47\\2.44\\2.4\\2.42\\2.44\\2.47\\2.46\\2.49\\2.47\\2.5\\2.46\\2.49\\2.47\\2.49\\2.46\\2.5\\2.47\\2.49\\2.47\\2.5\\2.46\\2.48\\%
2.16\\2.38\\2.46\\2.45\\2.4\\2.34\\2.32\\2.33\\2.38\\2.44\\2.45\\2.44\\2.48\\2.46\\2.49\\2.47\\2.5\\2.46\\2.48\\2.5\\2.47\\2.49\\2.46\\2.5\\2.47\\2.48\\%
2.14\\2.42\\2.46\\2.38\\2.3\\2.26\\2.26\\2.28\\2.34\\2.38\\2.42\\2.45\\2.47\\2.47\\2.5\\2.46\\2.49\\2.47\\2.49\\2.5\\2.46\\2.49\\2.48\\2.5\\2.46\\2.49\\%
2.22\\2.3\\2.26\\2.22\\2.2\\2.2\\2.2\\2.22\\2.3\\2.38\\2.42\\2.44\\2.47\\2.49\\2.46\\2.49\\2.47\\2.5\\2.48\\2.46\\2.5\\2.47\\2.49\\2.47\\2.5\\2.46\\%
2.32\\2.3\\2.24\\2.2\\2.16\\2.14\\2.14\\2.16\\2.22\\2.32\\2.42\\2.47\\2.49\\2.46\\2.5\\2.47\\2.49\\2.47\\2.5\\2.46\\2.49\\2.47\\2.5\\2.46\\2.49\\2.47\\%
2.38\\2.34\\2.26\\2.2\\2.14\\2.1\\2.08\\2.1\\2.14\\2.22\\2.36\\2.46\\2.48\\2.46\\2.49\\2.47\\2.5\\2.46\\2.49\\2.48\\2.46\\2.5\\2.47\\2.5\\2.47\\2.49\\%
2.46\\2.4\\2.3\\2.18\\2.1\\2.04\\2.02\\2.02\\2.06\\2.12\\2.24\\2.38\\2.46\\2.49\\2.47\\2.5\\2.47\\2.49\\2.46\\2.49\\2.47\\2.5\\2.47\\2.49\\2.46\\2.48\\%
2.47\\2.46\\2.36\\2.2\\2.1\\2.02\\1.98\\1.98\\2\\2.06\\2.14\\2.26\\2.4\\2.47\\2.49\\2.46\\2.49\\2.47\\2.5\\2.46\\2.49\\2.47\\2.5\\2.48\\2.46\\2.49\\%
2.49\\2.46\\2.44\\2.3\\2.12\\2.02\\2\\1.98\\1.97\\2\\2.04\\2.14\\2.28\\2.42\\2.47\\2.49\\2.46\\2.49\\2.47\\2.5\\2.47\\2.49\\2.46\\2.5\\2.48\\2.49\\%
2.47\\2.49\\2.47\\2.45\\2.32\\2.18\\2.08\\2.02\\1.98\\1.95\\1.96\\2\\2.08\\2.22\\2.38\\2.46\\2.49\\2.47\\2.49\\2.46\\2.5\\2.48\\2.49\\2.47\\2.5\\2.46\\%
2.49\\2.46\\2.48\\2.46\\2.46\\2.38\\2.24\\2.1\\2\\1.92\\1.88\\1.88\\1.92\\2\\2.18\\2.4\\2.48\\2.46\\2.5\\2.47\\2.49\\2.47\\2.5\\2.46\\2.49\\2.47\\%
2.47\\2.49\\2.46\\2.49\\2.47\\2.45\\2.35\\2.2\\2.06\\1.95\\1.86\\1.78\\1.76\\1.82\\2.02\\2.3\\2.46\\2.49\\2.47\\2.49\\2.46\\2.5\\2.48\\2.5\\2.47\\2.48\\%
2.49\\2.47\\2.48\\2.46\\2.49\\2.47\\2.42\\2.25\\2.08\\1.96\\1.85\\1.76\\1.705\\1.76\\1.92\\2.2\\2.44\\2.47\\2.5\\2.47\\2.49\\2.48\\2.5\\2.46\\2.49\\2.47\\%
2.46\\2.49\\2.47\\2.49\\2.46\\2.49\\2.45\\2.35\\2.18\\2\\1.88\\1.78\\1.74\\1.76\\1.88\\2.12\\2.42\\2.49\\2.47\\2.5\\2.48\\2.49\\2.46\\2.5\\2.47\\2.49\\%
2.48\\2.46\\2.49\\2.47\\2.49\\2.47\\2.48\\2.42\\2.25\\2.05\\1.95\\1.88\\1.82\\1.82\\1.9\\2.1\\2.4\\2.48\\2.5\\2.47\\2.49\\2.47\\2.5\\2.48\\2.49\\2.47\\%
2.46\\2.48\\2.47\\2.49\\2.48\\2.49\\2.48\\2.5\\2.35\\2.2\\2.1\\2.08\\2.05\\2.05\\2.08\\2.2\\2.46\\2.49\\2.48\\2.5\\2.48\\2.5\\2.49\\2.5\\2.48\\2.49\\%
}
\end{axis}
\node[rotate=90,font=\fontsize{34}{36}\selectfont] at (750pt,288pt) {ADC values};
\node[font=\fontsize{50}{52}\selectfont] at (778pt,77pt) {D};
\lbl{727}{-582}
\end{tikzpicture}
\end{document}
